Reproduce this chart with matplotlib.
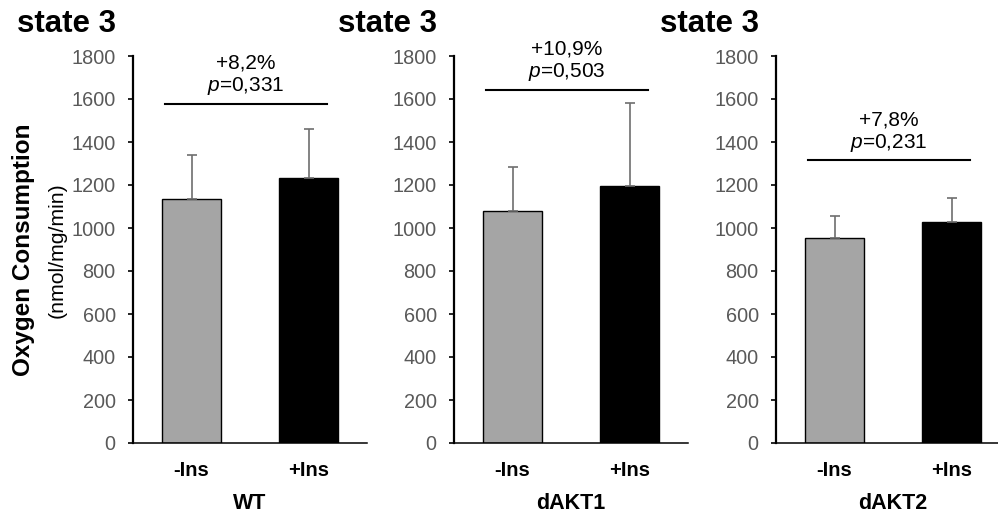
import matplotlib
matplotlib.use("Agg")
import matplotlib.pyplot as plt
import numpy as np

plt.rcParams['font.family'] = ['Liberation Sans', 'DejaVu Sans']
plt.rcParams['mathtext.fontset'] = 'custom'
plt.rcParams['mathtext.rm'] = 'Liberation Sans'
plt.rcParams['mathtext.it'] = 'Liberation Sans:italic'

# ---- data ----
groups = ['WT', 'dAKT1', 'dAKT2']
conditions = ['-Ins', '+Ins']
minus_ins = [1134, 1078, 953]
plus_ins = [1231, 1195, 1029]
minus_err = [204, 207, 101]
plus_err = [228, 385, 112]
sig_y = [1578, 1642, 1314]
pct_labels = ['+8,2%', '+10,9%', '+7,8%']
p_labels = ['0,331', '0,503', '0,231']
yticks = [0, 200, 400, 600, 800, 1000, 1200, 1400, 1600, 1800]
title = 'state 3'

W, H = 998, 513
fig = plt.figure(figsize=(W / 100, H / 100), dpi=100)

lefts = [133, 454, 776]
ax_w, ax_top, ax_bot = 234, 56, 443
tick_col = '#595959'

for i, g in enumerate(groups):
    ax = fig.add_axes([lefts[i] / W, (H - ax_bot) / H, ax_w / W, (ax_bot - ax_top) / H])
    x = np.arange(len(conditions))
    vals = [minus_ins[i], plus_ins[i]]
    errs = [minus_err[i], plus_err[i]]
    ax.bar(x, vals, width=0.5, color=['#a5a5a5', '#000000'], edgecolor='black',
           linewidth=1.0, zorder=2)
    ax.errorbar(x, vals, yerr=[np.zeros(2), errs], fmt='none', ecolor='#6e6e6e',
                elinewidth=1.2, capsize=3.5, capthick=1.2, zorder=3)
    ax.set_xlim(-0.5, 1.5)
    ax.set_ylim(0, 1800)
    ax.set_yticks(yticks)
    ax.set_yticklabels([str(t) for t in yticks], color=tick_col, fontsize=14.3)
    ax.tick_params(axis='y', length=3.5, width=1.2, pad=9, color='black')
    ax.tick_params(axis='x', length=0, pad=13)
    ax.set_xticks(x)
    ax.set_xticklabels(conditions, fontsize=14.5, fontweight='bold')
    ax.set_xlabel(g, fontsize=15.5, fontweight='bold', labelpad=9)
    for s in ['top', 'right']:
        ax.spines[s].set_visible(False)
    ax.spines['left'].set_linewidth(1.6)
    ax.spines['bottom'].set_linewidth(1.1)

    # significance line and annotation
    x0, x1 = -0.23, 1.16
    ax.plot([x0, x1], [sig_y[i], sig_y[i]], color='black', lw=1.5, clip_on=False, zorder=4)
    ax.annotate(pct_labels[i] + '\n' + '$p$=' + p_labels[i],
                xy=((x0 + x1) / 2, sig_y[i]), xytext=(0, 5), textcoords='offset points',
                ha='center', va='bottom', fontsize=15, linespacing=1.15,
                annotation_clip=False)

    ax.text(-0.495, 1.083, title, transform=ax.transAxes, ha='left', va='center',
            fontsize=22.5, fontweight='bold')

fig.text(24 / W, 1 - 250 / H, 'Oxygen Consumption', rotation=90, ha='center',
         va='center', fontsize=17.5, fontweight='bold')
fig.text(57 / W, 1 - 250 / H, '(nmol/mg/min)', rotation=90, ha='center',
         va='center', fontsize=15.3)

fig.savefig('out.png', dpi=100)
